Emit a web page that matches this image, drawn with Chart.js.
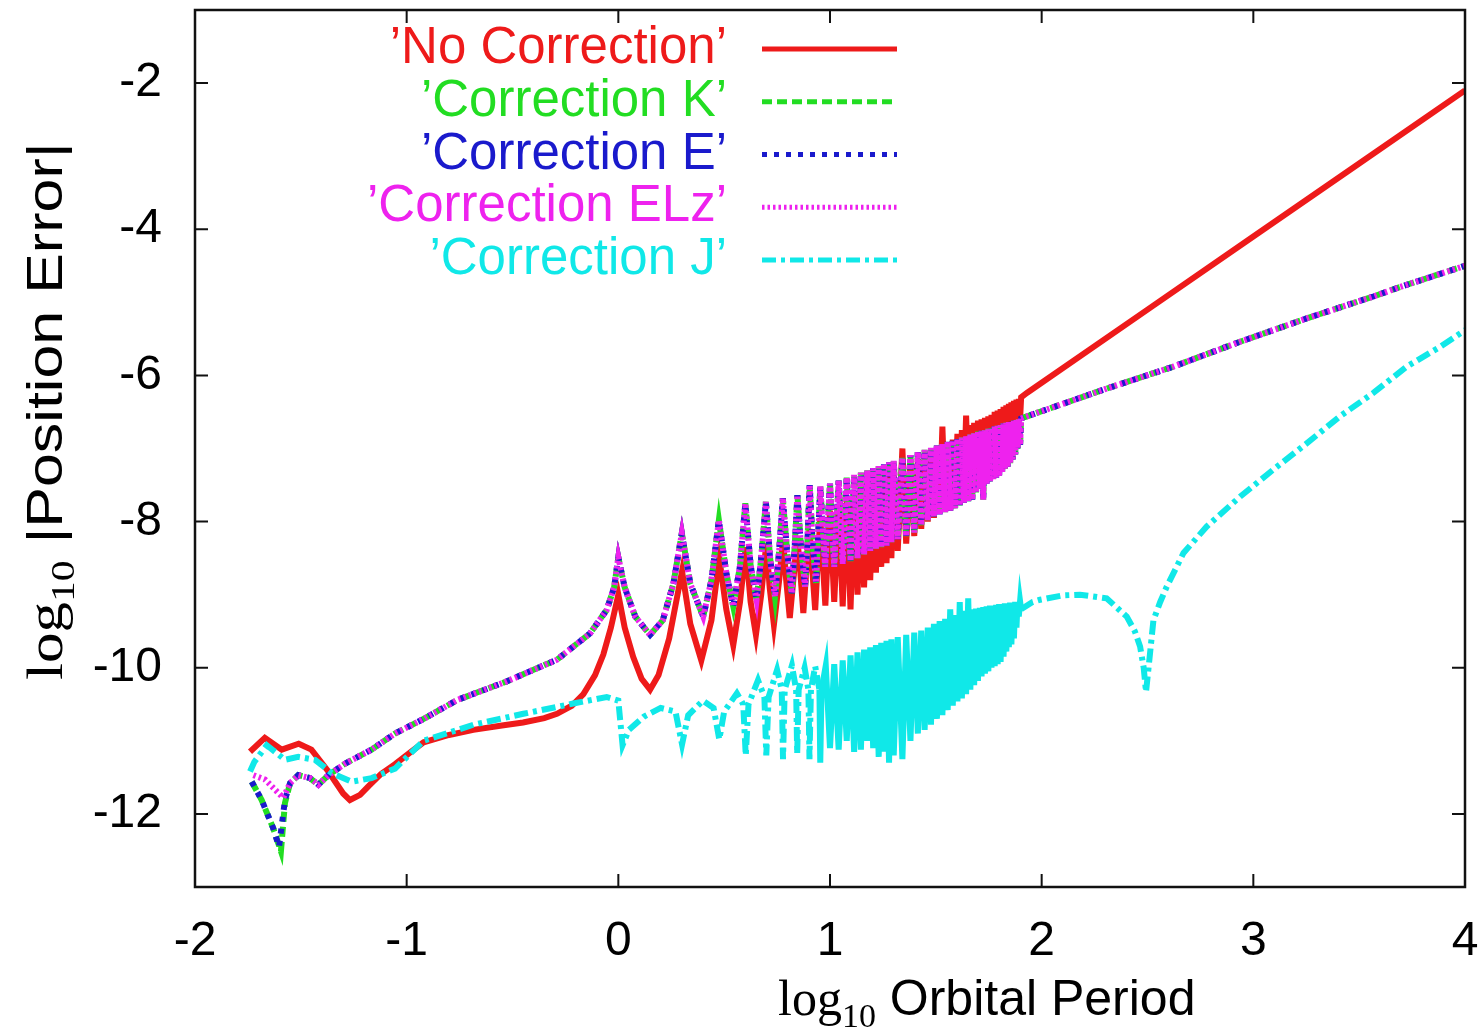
<!DOCTYPE html>
<html>
<head>
<meta charset="utf-8">
<script src="https://cdn.jsdelivr.net/npm/chart.js@4.4.1/dist/chart.umd.min.js"></script>
<style>
  html, body { margin: 0; padding: 0; background: #fff; }
  #wrap { width: 1479px; height: 1030px; }
</style>
</head>
<body>
<div id="wrap"><canvas id="errChart" width="1479" height="1030"></canvas></div>
<script>
// axis ticks
const xTicks = [-2, -1, 0, 1, 2, 3, 4];
const yTicks = [-12, -10, -8, -6, -4, -2];

// legend labels (gnuplot prints the quotes)
const seriesNames = ['\u2019No Correction\u2019', '\u2019Correction K\u2019', '\u2019Correction E\u2019',
  '\u2019Correction ELz\u2019', '\u2019Correction J\u2019'];

// 'No Correction'  [log10 period, log10 error]
const noCorrection = [
  [-1.74,-11.15],[-1.67,-10.96],[-1.59,-11.12],[-1.51,-11.04],[-1.45,-11.12],[-1.37,-11.42],[-1.30,-11.72],
  [-1.268,-11.81],[-1.22,-11.74],[-1.18,-11.62],[-1.12,-11.45],[-1.055,-11.32],[-0.98,-11.15],[-0.92,-11.02],
  [-0.80,-10.92],[-0.685,-10.85],[-0.55,-10.79],[-0.45,-10.75],[-0.35,-10.69],[-0.29,-10.63],[-0.22,-10.52],
  [-0.165,-10.36],[-0.11,-10.1],[-0.071,-9.82],[-0.035,-9.45],[0,-9.0],[0.03,-9.45],[0.07,-9.85],[0.11,-10.15],
  [0.15,-10.30],[0.19,-10.1],[0.24,-9.6],[0.301,-8.68],[0.34,-9.4],[0.392,-9.9],[0.44,-9.35],[0.477,-8.5],
  [0.51,-9.2],[0.543,-9.69],[0.575,-9.1],[0.602,-8.35],[0.625,-9.1],[0.65,-9.55],[0.675,-9.0],[0.699,-8.3],
  [0.715,-8.9],[0.735,-9.41],[0.76,-8.8],[0.778,-8.25],[0.793,-8.8],[0.81,-9.32],[0.83,-8.7],[0.845,-8.2],
  [0.86,-8.7],[0.874,-9.25],[0.89,-8.6],[0.903,-8.1],[0.915,-8.6],[0.93,-9.21],[0.943,-8.5],[0.954,-7.95],
  [0.965,-8.5],[0.978,-9.15],[0.99,-8.4],[1.0,-7.85],
  [1.02,-9.1],[1.041,-7.78],[1.06,-9.16],[1.079,-7.72],[1.097,-9.2],[1.114,-7.66],[1.13,-9.0],[1.146,-7.6],
  [1.161,-8.9],[1.176,-7.55],[1.19,-8.8],[1.204,-7.5],[1.217,-8.7],[1.23,-7.45],[1.242,-8.62],[1.255,-7.42],
  [1.267,-8.57],[1.279,-7.38],[1.29,-8.5],[1.301,-7.35],[1.32,-8.4],[1.342,-7.0],[1.36,-8.3],[1.38,-7.2],
  [1.398,-8.2],[1.415,-7.15],[1.431,-8.1],[1.447,-7.1],[1.462,-8.0],[1.477,-7.05],[1.491,-7.95],[1.505,-7.0],
  [1.518,-7.85],[1.531,-6.7],[1.544,-7.8],[1.556,-6.92],[1.568,-7.7],[1.58,-6.88],[1.591,-7.6],[1.602,-6.8],
  [1.613,-7.55],[1.623,-6.75],[1.633,-7.5],[1.643,-6.55],[1.653,-7.45],[1.663,-6.68],[1.672,-7.4],[1.681,-6.65],
  [1.69,-7.35],[1.699,-6.62],[1.708,-7.3],[1.716,-6.6],[1.724,-7.25],[1.732,-6.58],[1.74,-7.2],[1.748,-6.56],
  [1.756,-7.15],[1.763,-6.54],[1.771,-7.1],[1.778,-6.5],[1.785,-7.05],[1.792,-6.48],[1.799,-7.0],[1.806,-6.46],
  [1.813,-6.95],[1.82,-6.43],[1.826,-6.9],[1.833,-6.41],[1.839,-6.85],[1.845,-6.39],[1.851,-6.8],[1.857,-6.37],
  [1.863,-6.75],[1.869,-6.35],[1.875,-6.7],[1.881,-6.33],[1.886,-6.65],[1.892,-6.32],[1.898,-6.6],[1.903,-6.3],
  [1.93,-6.24],[2.5,-5.1],[3.0,-4.1],[3.5,-3.1],[4.0,-2.1]
];

// K, E and ELz only differ at the very start, the rest is on top of each other
const correctionKHead = [
  [-1.732,-11.56],[-1.685,-11.81],[-1.63,-12.2],[-1.594,-12.51],[-1.575,-11.85],[-1.551,-11.58],[-1.512,-11.47],[-1.457,-11.51]
];
const correctionEHead = [
  [-1.732,-11.56],[-1.685,-11.81],[-1.63,-12.2],[-1.603,-12.45],[-1.575,-11.81],[-1.551,-11.58],[-1.512,-11.47],[-1.457,-11.51]
];
const correctionELzHead = [
  [-1.724,-11.47],[-1.669,-11.53],[-1.614,-11.69],[-1.583,-11.78],[-1.551,-11.58],[-1.512,-11.47],[-1.457,-11.51]
];
const correctionBody = [
  [-1.417,-11.60],[-1.37,-11.47],[-1.29,-11.31],[-1.166,-11.12],[-1.055,-10.90],[-0.92,-10.70],[-0.76,-10.44],
  [-0.53,-10.19],[-0.29,-9.89],[-0.134,-9.53],[-0.055,-9.21],[-0.02,-8.9],[0,-8.49],[0.03,-8.9],[0.08,-9.3],
  [0.15,-9.55],[0.21,-9.35],[0.26,-8.85],[0.30,-8.16],[0.34,-8.85],[0.401,-9.30],[0.44,-8.8],[0.475,-7.98],
  [0.51,-8.7],[0.543,-9.16],[0.575,-8.6],[0.60,-7.75],[0.625,-8.6],[0.653,-9.07],[0.675,-8.5],[0.697,-7.73],
  [0.717,-8.5],[0.740,-9.03],[0.76,-8.4],[0.777,-7.68],[0.797,-8.4],[0.819,-8.98],[0.833,-8.35],[0.846,-7.64],
  [0.862,-8.3],[0.882,-8.89],[0.893,-8.3],[0.904,-7.50],[0.918,-8.3],[0.934,-8.84],[0.944,-8.2],[0.954,-7.52],
  [0.977,-8.62],[1.0,-7.48],[1.02,-8.62],[1.041,-7.44],[1.06,-8.58],[1.079,-7.4],[1.097,-8.54],[1.114,-7.36],
  [1.13,-8.5],[1.146,-7.33],[1.161,-8.45],[1.176,-7.3],[1.19,-8.4],[1.204,-7.27],[1.217,-8.37],[1.23,-7.24],
  [1.242,-8.35],[1.255,-7.21],[1.267,-8.33],[1.279,-7.19],[1.29,-8.28],[1.301,-7.17],[1.32,-8.24],[1.342,-7.13],
  [1.36,-8.2],[1.38,-7.09],[1.398,-8.15],[1.415,-7.05],[1.431,-8.05],[1.447,-7.02],[1.462,-7.98],[1.477,-6.99],
  [1.491,-7.93],[1.505,-6.96],[1.518,-7.9],[1.531,-6.94],[1.544,-7.87],[1.556,-6.91],[1.568,-7.85],[1.58,-6.89],
  [1.591,-7.82],[1.602,-6.87],[1.613,-7.78],[1.623,-6.85],[1.633,-7.74],[1.643,-6.83],[1.653,-7.72],[1.663,-6.81],
  [1.672,-7.7],[1.681,-6.79],[1.69,-7.6],[1.699,-6.77],[1.708,-7.55],[1.716,-6.76],[1.724,-7.7],[1.732,-6.75],
  [1.74,-7.48],[1.748,-6.73],[1.756,-7.45],[1.763,-6.72],[1.771,-7.42],[1.778,-6.7],[1.785,-7.4],[1.792,-6.69],
  [1.799,-7.38],[1.806,-6.68],[1.813,-7.32],[1.82,-6.66],[1.826,-7.28],[1.833,-6.65],[1.839,-7.25],[1.845,-6.64],
  [1.851,-7.2],[1.857,-6.63],[1.863,-7.15],[1.869,-6.62],[1.875,-7.08],[1.881,-6.61],[1.886,-7.0],[1.892,-6.6],
  [1.898,-6.95],[1.903,-6.59],[1.92,-6.57],[2.0,-6.49],[2.307,-6.18],[2.622,-5.88],[2.937,-5.54],[3.252,-5.22],
  [3.567,-4.92],[3.693,-4.79],[4.0,-4.5]
];
const correctionK = correctionKHead.concat(correctionBody);
const correctionE = correctionEHead.concat(correctionBody);
const correctionELz = correctionELzHead.concat(correctionBody);

// 'Correction J'
const correctionJ = [
  [-1.74,-11.42],[-1.72,-11.29],[-1.661,-11.06],[-1.575,-11.26],[-1.512,-11.22],[-1.433,-11.26],[-1.354,-11.44],
  [-1.26,-11.56],[-1.166,-11.51],[-1.055,-11.38],[-0.92,-11.0],[-0.685,-10.78],[-0.449,-10.63],[-0.213,-10.49],
  [-0.055,-10.40],[0.0,-10.45],[0.02,-11.06],[0.05,-10.85],[0.12,-10.67],[0.2,-10.55],[0.27,-10.6],[0.301,-11.05],
  [0.33,-10.65],[0.40,-10.45],[0.45,-10.55],[0.477,-10.98],[0.50,-10.6],[0.56,-10.35],[0.59,-10.5],[0.602,-11.2],
  [0.615,-10.5],[0.66,-10.17],[0.69,-10.4],[0.699,-11.2],[0.71,-10.4],[0.75,-10.03],[0.772,-10.3],[0.778,-11.25],
  [0.786,-10.3],[0.82,-9.97],[0.84,-10.3],[0.845,-11.18],[0.852,-10.3],[0.88,-10.0],[0.898,-10.3],[0.903,-11.25],
  [0.91,-10.3],[0.93,-9.98],[0.95,-10.3],[0.954,-11.3],[0.96,-10.3],[0.98,-9.97],[1.0,-11.1],
  [1.02,-9.95],[1.041,-11.12],[1.06,-9.9],[1.079,-11.0],[1.097,-9.83],[1.114,-11.15],[1.13,-9.79],[1.146,-11.12],
  [1.161,-9.75],[1.176,-11.0],[1.19,-9.72],[1.204,-11.1],[1.217,-9.69],[1.23,-11.22],[1.242,-9.66],[1.255,-11.15],
  [1.267,-9.63],[1.279,-11.3],[1.29,-9.61],[1.301,-11.2],[1.32,-9.58],[1.342,-11.25],[1.36,-9.55],[1.38,-11.0],
  [1.398,-9.52],[1.415,-10.9],[1.431,-9.49],[1.447,-10.85],[1.462,-9.45],[1.477,-10.78],[1.491,-9.4],[1.505,-10.7],
  [1.518,-9.36],[1.531,-10.65],[1.544,-9.33],[1.556,-10.58],[1.568,-9.2],[1.58,-10.52],[1.591,-9.28],[1.602,-10.46],
  [1.613,-9.1],[1.623,-10.42],[1.633,-9.22],[1.643,-10.36],[1.653,-9.05],[1.663,-10.3],[1.672,-9.2],[1.681,-10.24],
  [1.69,-9.19],[1.699,-10.18],[1.708,-9.18],[1.716,-10.12],[1.724,-9.17],[1.732,-10.08],[1.74,-9.16],[1.748,-10.05],
  [1.756,-9.15],[1.763,-10.0],[1.771,-9.15],[1.778,-9.98],[1.785,-9.14],[1.792,-9.95],[1.799,-9.13],[1.806,-9.92],
  [1.813,-9.13],[1.82,-9.85],[1.826,-9.12],[1.833,-9.78],[1.839,-9.12],[1.845,-9.72],[1.851,-9.11],[1.857,-9.68],
  [1.863,-9.11],[1.869,-9.6],[1.875,-9.1],[1.881,-9.45],[1.886,-9.1],[1.892,-9.3],[1.898,-9.09],[1.903,-9.2],
  [1.957,-9.10],[1.992,-9.07],[2.10,-9.01],[2.181,-9.00],[2.307,-9.05],[2.402,-9.30],[2.44,-9.5],[2.465,-9.71],
  [2.482,-10.0],[2.493,-10.33],[2.505,-10.0],[2.528,-9.35],[2.56,-9.1],[2.591,-8.89],[2.67,-8.43],[2.779,-8.07],
  [2.937,-7.66],[3.094,-7.29],[3.252,-6.93],[3.409,-6.56],[3.567,-6.24],[3.724,-5.88],[3.882,-5.61],[4.0,-5.38]
];

const SANS = '"Liberation Sans", Arial, Helvetica, sans-serif';
const SERIF = '"Liberation Serif", "Times New Roman", serif';

function toPoints(arr) {
  return arr.map(p => ({ x: p[0], y: p[1] }));
}

// dense part of the curves, where the pattern closes up into a solid band
function inBand(c) {
  return c.p0.parsed.x >= 0.95 && c.p1.parsed.x <= 1.91;
}

function makeSet(label, arr, color, dash, order, bandDash) {
  const ds = {
    label: label,
    data: toPoints(arr),
    borderColor: color,
    backgroundColor: color,
    borderWidth: 6,
    borderDash: dash,
    pointRadius: 0,
    showLine: true,
    tension: 0,
    order: order
  };
  if (bandDash) {
    ds.segment = { borderDash: c => inBand(c) ? bandDash : undefined };
  }
  return ds;
}

// box, inward ticks on all four sides (gnuplot style)
const frameTicks = {
  id: 'frameTicks',
  afterDatasetsDraw(chart) {
    const ctx = chart.ctx;
    const a = chart.chartArea;
    const xs = chart.scales.x, ys = chart.scales.y;
    const len = 13;
    ctx.save();
    ctx.strokeStyle = '#111';
    ctx.lineWidth = 2;
    ctx.beginPath();
    xTicks.forEach(v => {
      const px = xs.getPixelForValue(v);
      ctx.moveTo(px, a.bottom); ctx.lineTo(px, a.bottom - len);
      ctx.moveTo(px, a.top); ctx.lineTo(px, a.top + len);
    });
    yTicks.forEach(v => {
      const py = ys.getPixelForValue(v);
      ctx.moveTo(a.left, py); ctx.lineTo(a.left + len, py);
      ctx.moveTo(a.right, py); ctx.lineTo(a.right - len, py);
    });
    ctx.stroke();
    ctx.lineWidth = 2.5;
    ctx.strokeRect(a.left, a.top, a.right - a.left, a.bottom - a.top);
    ctx.restore();
  }
};

// key in the upper left, text right aligned, sample on the right
const gnuKey = {
  id: 'gnuKey',
  afterDatasetsDraw(chart) {
    const ctx = chart.ctx;
    ctx.save();
    chart.data.datasets.forEach((ds, i) => {
      const y = 49 + i * 52.75;
      ctx.font = '51px ' + SANS;
      ctx.textAlign = 'right';
      ctx.textBaseline = 'middle';
      ctx.fillStyle = ds.borderColor;
      ctx.fillText(ds.label, 727, y);
      ctx.strokeStyle = ds.borderColor;
      ctx.lineWidth = 5;
      ctx.setLineDash(ds.borderDash || []);
      ctx.beginPath();
      ctx.moveTo(762, y);
      ctx.lineTo(897, y);
      ctx.stroke();
      ctx.setLineDash([]);
    });
    ctx.restore();
  }
};

function drawRuns(ctx, runs, x, y) {
  runs.forEach(r => {
    ctx.font = r.font;
    ctx.fillText(r.text, x, y + (r.dy || 0));
    x += ctx.measureText(r.text).width;
  });
}

// axis titles with log10 subscript
const axisTitles = {
  id: 'axisTitles',
  afterDraw(chart) {
    const ctx = chart.ctx;
    ctx.save();
    ctx.fillStyle = '#000';
    ctx.textAlign = 'left';
    ctx.textBaseline = 'alphabetic';
    drawRuns(ctx, [
      { text: 'log', font: '50px ' + SERIF },
      { text: '10', font: '34px ' + SERIF, dy: 12 },
      { text: ' Orbital Period', font: '50px ' + SANS }
    ], 778, 1015);

    ctx.translate(62, 680);
    ctx.rotate(-Math.PI / 2);
    ctx.scale(1.22, 1);
    drawRuns(ctx, [
      { text: 'log', font: '50px ' + SERIF },
      { text: '10', font: '34px ' + SERIF, dy: 12 },
      { text: ' |Position Error|', font: '50px ' + SANS }
    ], 0, 0);
    ctx.restore();
  }
};

const ctx = document.getElementById('errChart').getContext('2d');
const chart = new Chart(ctx, {
  type: 'scatter',
  data: {
    datasets: [
      makeSet(seriesNames[0], noCorrection, '#ee1a1a', [], 5),
      makeSet(seriesNames[1], correctionK, '#22dd22', [10, 5], 4),
      makeSet(seriesNames[2], correctionE, '#1a1acc', [5, 7], 3),
      makeSet(seriesNames[3], correctionELz, '#ee22ee', [2.5, 3], 2, [4, 2]),
      makeSet(seriesNames[4], correctionJ, '#10e8e8', [14, 5, 4, 5], 1, [])
    ]
  },
  options: {
    responsive: false,
    animation: false,
    layout: { autoPadding: false, padding: { left: 0, top: 10, right: 14, bottom: 0 } },
    plugins: {
      legend: { display: false },
      tooltip: { enabled: false }
    },
    scales: {
      x: {
        type: 'linear',
        min: -2,
        max: 4,
        grid: { display: false, drawTicks: false },
        border: { display: false },
        ticks: {
          stepSize: 1,
          padding: 26,
          color: '#000',
          font: { family: SANS, size: 48 }
        },
        afterFit(s) {
          s.height = 143;
          s.paddingLeft = 0;
          s.paddingRight = 0;
        }
      },
      y: {
        type: 'linear',
        min: -13,
        max: -1,
        grid: { display: false, drawTicks: false },
        border: { display: false },
        ticks: {
          padding: 33,
          color: '#000',
          font: { family: SANS, size: 48 }
        },
        afterBuildTicks(s) { s.ticks = yTicks.map(v => ({ value: v })); },
        afterFit(s) {
          s.width = 195;
          s.paddingTop = 0;
          s.paddingBottom = 0;
        }
      }
    }
  },
  plugins: [frameTicks, gnuKey, axisTitles]
});
</script>
</body>
</html>
